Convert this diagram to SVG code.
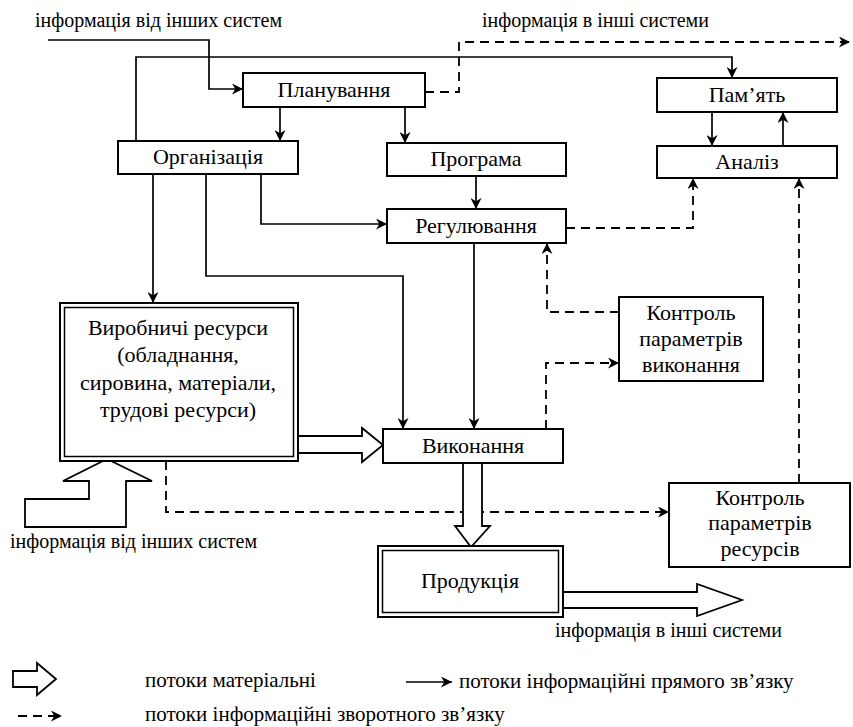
<svg xmlns="http://www.w3.org/2000/svg" width="853" height="727" viewBox="0 0 853 727" font-family="Liberation Serif, Times New Roman, serif">
  <style>
    .box { fill: #fff; stroke: #000; stroke-width: 2; }
    .t { font-size: 22px; fill: #000; text-anchor: middle; }
    .lbl { font-size: 20px; fill: #000; }
    .leg { font-size: 21px; fill: #000; }
    .ln { fill: none; stroke: #000; stroke-width: 1.7; marker-end: url(#arr); }
    .dash { fill: none; stroke: #000; stroke-width: 1.8; stroke-dasharray: 9 6; marker-end: url(#arr); }
    .mat { fill: #fff; stroke: #000; stroke-width: 1.8; stroke-linejoin: miter; }
  </style>
  <defs>
    <marker id="arr" viewBox="0 0 10 10" refX="10" refY="5" markerWidth="11" markerHeight="11" markerUnits="userSpaceOnUse" orient="auto">
      <path d="M0,0 L10,5 L0,10 L3,5 z" fill="#000"/>
    </marker>
  </defs>
  <rect width="853" height="727" fill="#fff"/>

  <!-- connectors -->
  <g id="connectors">
    <!-- direct information flows -->
    <path class="ln" d="M48,40 H209 V89 H243"/>
    <path class="ln" d="M136,141 V57 H732 V78"/>
    <path class="ln" d="M280,107 V141"/>
    <path class="ln" d="M405,107 V143"/>
    <path class="ln" d="M476,176 V209"/>
    <path class="ln" d="M261,174 V224 H387"/>
    <path class="ln" d="M206,174 V276 H403 V429"/>
    <path class="ln" d="M153,174 V303"/>
    <path class="ln" d="M474,243 V429"/>
    <path class="ln" d="M712,112 V146"/>
    <path class="ln" d="M783,146 V112"/>
    <!-- feedback flows -->
    <path class="dash" d="M425,92 H459 V42 H850"/>
    <path class="dash" d="M566,228 H693 V178"/>
    <path class="dash" d="M619,312 H547 V243"/>
    <path class="dash" d="M546,429 V363 H619"/>
    <path class="dash" d="M799,483 V178"/>
    <path class="dash" d="M166,461 V512 H669"/>
    <!-- material flows -->
    <polygon class="mat" points="298,436 362,436 362,428 383,445 362,462 362,453 298,453"/>
    <polygon class="mat" points="463,463 482,463 482,526 490,526 471,547 455,526 463,526"/>
    <polygon class="mat" points="563,592 697,592 697,584 742,600 697,616 697,608 563,608"/>
    <polygon class="mat" points="107,459 152,481 126,481 126,527 25,527 25,499 89,499 89,481 63,481"/>
  </g>

  <!-- free labels -->
  <g>
    <text class="lbl" x="35" y="27">інформація від інших систем</text>
    <text class="lbl" x="482" y="27">інформація в інші системи</text>
    <text class="lbl" x="10" y="548">інформація від інших систем</text>
    <text class="lbl" x="555" y="637">інформація в інші системи</text>
  </g>

  <g id="planuvannia">
    <rect class="box" x="243" y="73" width="182" height="34"/>
    <text class="t" x="334" y="97">Планування</text>
  </g>
  <g id="orhanizatsiia">
    <rect class="box" x="118" y="141" width="180" height="33"/>
    <text class="t" x="208" y="164">Організація</text>
  </g>
  <g id="prohrama">
    <rect class="box" x="387" y="143" width="179" height="33"/>
    <text class="t" x="476" y="166">Програма</text>
  </g>
  <g id="pamiat">
    <rect class="box" x="657" y="78" width="180" height="34"/>
    <text class="t" x="747" y="102">Пам’ять</text>
  </g>
  <g id="analiz">
    <rect class="box" x="657" y="146" width="180" height="32"/>
    <text class="t" x="747" y="169">Аналіз</text>
  </g>
  <g id="rehuliuvannia">
    <rect class="box" x="387" y="209" width="179" height="34"/>
    <text class="t" x="476" y="233">Регулювання</text>
  </g>
  <g id="kontrol-vykonannia">
    <rect class="box" x="619" y="297" width="144" height="84"/>
    <text class="t" x="691" y="320">Контроль</text>
    <text class="t" x="691" y="346">параметрів</text>
    <text class="t" x="691" y="372">виконання</text>
  </g>
  <g id="resursy">
    <rect class="box" x="60" y="303" width="238" height="158"/>
    <rect fill="none" stroke="#000" stroke-width="1.5" x="64.5" y="307.5" width="229" height="149"/>
    <text class="t" x="178" y="335">Виробничі ресурси</text>
    <text class="t" x="178" y="362">(обладнання,</text>
    <text class="t" x="178" y="390">сировина, матеріали,</text>
    <text class="t" x="178" y="417">трудові ресурси)</text>
  </g>
  <g id="vykonannia">
    <rect class="box" x="383" y="429" width="180" height="34"/>
    <text class="t" x="473" y="453">Виконання</text>
  </g>
  <g id="kontrol-resursiv">
    <rect class="box" x="669" y="483" width="181" height="84"/>
    <text class="t" x="760" y="505">Контроль</text>
    <text class="t" x="760" y="530">параметрів</text>
    <text class="t" x="760" y="556">ресурсів</text>
  </g>
  <g id="produktsiia">
    <rect class="box" x="378" y="546" width="185" height="71"/>
    <rect fill="none" stroke="#000" stroke-width="1.5" x="382.5" y="550.5" width="176" height="62"/>
    <text class="t" x="470" y="588">Продукція</text>
  </g>

  <!-- legend -->
  <g id="legend">
    <polygon class="mat" points="13,671 37,671 37,663 56,679 37,695 37,687 13,687"/>
    <text class="leg" x="145" y="687">потоки матеріальні</text>
    <path class="ln" d="M406,682 H452"/>
    <text class="leg" x="459" y="688">потоки інформаційні прямого зв’язку</text>
    <path class="dash" d="M18,716 H62" stroke-dasharray="8 5"/>
    <text class="leg" x="145" y="721">потоки інформаційні зворотного зв’язку</text>
  </g>
</svg>
